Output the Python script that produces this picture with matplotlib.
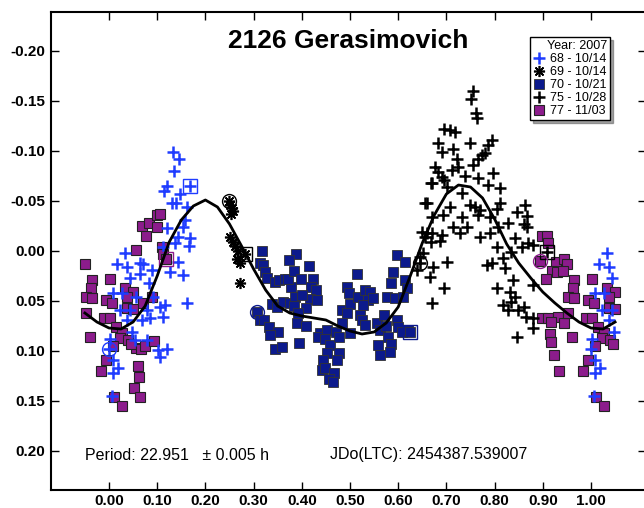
import numpy as np
import matplotlib.pyplot as plt
from matplotlib.lines import Line2D

plt.rcParams['font.family'] = ['Liberation Sans', 'DejaVu Sans']

# each night: first point is circled, last point is boxed
# session 68 - 10/14
ph68 = [0.000, 0.132, 0.146, 0.135, 0.121, 0.115, 0.147, 0.130, 0.140, 0.161, 0.158, 0.120, 0.154,
        0.144, 0.168, 0.167, 0.137, 0.113, 0.033, 0.016, 0.037, 0.064, 0.071, 0.089, 0.064,
        0.044, 0.127, 0.144, 0.153, 0.082, 0.009, 0.026, 0.057, 0.092, 0.106, 0.116, 0.023,
        0.044, 0.078, 0.068, 0.085, 0.113, 0.037, 0.161, 0.002, 0.047, 0.054, 0.078, 0.102,
        0.120, 0.106, 0.009, 0.019, 0.009, 0.006, 0.169]
mag68 = [0.098, -0.099, -0.092, -0.080, -0.065, -0.060, -0.057, -0.048, -0.048, -0.044, -0.031, -0.023, -0.024,
         -0.014, -0.013, -0.005, -0.008, -0.004, 0.002, 0.013, 0.016, 0.012, 0.013, 0.019, 0.023,
         0.027, 0.021, 0.011, 0.024, 0.032, 0.042, 0.042, 0.046, 0.046, 0.056, 0.054, 0.059,
         0.059, 0.059, 0.069, 0.067, 0.066, 0.069, 0.052, 0.088, 0.081, 0.089, 0.089, 0.099,
         0.098, 0.106, 0.109, 0.117, 0.122, 0.145, -0.065]

# session 69 - 10/14
ph69 = [0.248, 0.251, 0.255, 0.258, 0.254, 0.252, 0.258, 0.262, 0.268, 0.272, 0.266, 0.272, 0.282]
mag69 = [-0.050, -0.046, -0.043, -0.040, -0.037, -0.014, -0.009, -0.005, 0.000, 0.012, 0.008, 0.032, 0.003]

# session 70 - 10/21
ph70 = [0.308, 0.317, 0.313, 0.320, 0.324, 0.328, 0.344, 0.353, 0.365, 0.377, 0.372, 0.388, 0.374,
        0.384, 0.414, 0.398, 0.423, 0.420, 0.429, 0.418, 0.432, 0.338, 0.348, 0.362, 0.376, 0.386,
        0.384, 0.400, 0.409, 0.393, 0.313, 0.322, 0.331, 0.351, 0.334, 0.344, 0.358, 0.395, 0.391,
        0.409, 0.438, 0.434, 0.453, 0.448, 0.458, 0.453, 0.478, 0.474, 0.445, 0.441, 0.448, 0.467,
        0.457, 0.465, 0.471, 0.478, 0.483, 0.483, 0.493, 0.497, 0.500, 0.493, 0.514, 0.517, 0.531,
        0.542, 0.538, 0.548, 0.528, 0.521, 0.524, 0.531, 0.500, 0.555, 0.562, 0.576, 0.593, 0.597,
        0.614, 0.590, 0.586, 0.614, 0.618, 0.611, 0.571, 0.575, 0.579, 0.586, 0.583, 0.562, 0.559,
        0.597, 0.600, 0.607, 0.621, 0.624]
mag70 = [0.061, 0.000, 0.012, 0.014, 0.021, 0.027, 0.031, 0.029, 0.028, 0.036, 0.028, 0.003, 0.009,
         0.020, 0.015, 0.028, 0.028, 0.036, 0.039, 0.048, 0.049, 0.053, 0.056, 0.051, 0.052, 0.046,
         0.055, 0.044, 0.057, 0.062, 0.069, 0.069, 0.076, 0.081, 0.084, 0.098, 0.096, 0.092, 0.072,
         0.075, 0.082, 0.086, 0.079, 0.088, 0.094, 0.102, 0.102, 0.109, 0.109, 0.119, 0.117, 0.122,
         0.128, 0.131, 0.081, 0.086, 0.072, 0.059, 0.036, 0.042, 0.053, 0.062, 0.023, 0.046, 0.039,
         0.041, 0.049, 0.047, 0.054, 0.064, 0.069, 0.074, 0.082, 0.072, 0.079, 0.046, 0.047, 0.004,
         0.011, 0.021, 0.032, 0.029, 0.037, 0.046, 0.064, 0.075, 0.086, 0.093, 0.101, 0.104, 0.094,
         0.069, 0.076, 0.081, 0.079, 0.081]

# session 75 - 10/28
ph75 = [0.645, 0.645, 0.652, 0.638, 0.756, 0.752, 0.761, 0.763, 0.694, 0.707, 0.718, 0.683, 0.690,
        0.714, 0.749, 0.794, 0.787, 0.773, 0.780, 0.766, 0.756, 0.721, 0.725, 0.676, 0.683, 0.711,
        0.739, 0.690, 0.694, 0.766, 0.797, 0.787, 0.811, 0.670, 0.701, 0.732, 0.659, 0.707, 0.749,
        0.759, 0.770, 0.766, 0.790, 0.811, 0.804, 0.692, 0.670, 0.732, 0.714, 0.742, 0.649, 0.656,
        0.670, 0.690, 0.687, 0.728, 0.770, 0.790, 0.808, 0.828, 0.846, 0.863, 0.867, 0.860, 0.867,
        0.842, 0.856, 0.870, 0.880, 0.804, 0.835, 0.818, 0.822, 0.794, 0.784, 0.701, 0.673, 0.666,
        0.694, 0.670, 0.804, 0.832, 0.842, 0.835, 0.818, 0.828, 0.849, 0.860, 0.865, 0.880, 0.880,
        0.846, 0.880, 0.839, 0.656, 0.669, 0.659, 0.669, 0.908]
mag75 = [0.012, 0.006, 0.002, 0.019, -0.160, -0.152, -0.138, -0.133, -0.122, -0.121, -0.119, -0.108, -0.099,
         -0.102, -0.108, -0.111, -0.106, -0.096, -0.098, -0.092, -0.086, -0.092, -0.084, -0.084, -0.079, -0.081,
         -0.075, -0.074, -0.071, -0.073, -0.078, -0.066, -0.063, -0.068, -0.064, -0.058, -0.048, -0.044, -0.046,
         -0.044, -0.041, -0.036, -0.034, -0.048, -0.042, -0.036, -0.034, -0.034, -0.024, -0.024, -0.019, -0.014,
         -0.018, -0.016, -0.010, -0.018, -0.014, -0.018, -0.024, -0.028, -0.039, -0.046, -0.035, -0.027, -0.024,
         -0.013, -0.004, -0.008, -0.006, -0.004, 0.001, 0.007, 0.017, 0.012, 0.014, 0.011, 0.016, 0.026,
         0.037, 0.052, 0.037, 0.041, 0.046, 0.051, 0.054, 0.059, 0.059, 0.056, 0.066, 0.067, 0.077,
         0.086, 0.034, 0.029, -0.048, -0.068, -0.018, -0.009, 0.001]

# session 77 - 11/03
ph77 = [0.894, 0.898, 0.908, 0.910, 0.927, 0.945, 0.950, 0.920, 0.929, 0.941, 0.906, 0.965, 0.962,
        0.953, 0.965, 0.993, 0.898, 0.911, 0.931, 0.918, 0.943, 0.953, 0.990, 0.915, 0.917, 0.960,
        0.994, 0.924, 0.934, 0.984,
        0.003, 0.033, 0.049, 0.037, 0.089, 0.006, 0.071, 0.003, 0.037, 0.050, 0.015, 0.028, 0.023,
        0.040, 0.057, 0.045, 0.066, 0.075, 0.093, 0.009, 0.061, 0.063, 0.052, 0.064, 0.010, 0.026,
        0.057, 0.068, 0.083, 0.100, 0.077, 0.099, 0.106, 0.109, 0.113, 0.118]
mag77 = [0.010, -0.015, -0.015, -0.008, 0.011, 0.008, 0.013, 0.020, 0.021, 0.020, 0.028, 0.029, 0.037,
         0.046, 0.047, 0.049, 0.067, 0.067, 0.066, 0.071, 0.072, 0.062, 0.067, 0.083, 0.091, 0.086,
         0.109, 0.104, 0.120, 0.120,
         0.028, 0.037, 0.041, 0.046, 0.046, 0.052, 0.052, 0.067, 0.057, 0.058, 0.076, 0.082, 0.087,
         0.089, 0.097, 0.093, 0.098, 0.095, 0.090, 0.095, 0.115, 0.126, 0.137, 0.146, 0.146, 0.155,
         -0.001, -0.025, -0.028, -0.024, -0.015, -0.036, -0.037, -0.004, 0.003, 0.008]

# Fourier fit curve, one full cycle
fit_ph = [0.000, 0.025, 0.050, 0.075, 0.100, 0.125, 0.150, 0.175, 0.200, 0.225,
          0.250, 0.275, 0.300, 0.325, 0.350, 0.375, 0.400, 0.425, 0.450, 0.475,
          0.500, 0.525, 0.550, 0.575, 0.600, 0.625, 0.650, 0.675, 0.700, 0.725,
          0.750, 0.775, 0.800, 0.825, 0.850, 0.875, 0.900, 0.925, 0.950, 0.975]
fit_mag = [0.077, 0.078, 0.071, 0.055, 0.025, -0.009, -0.031, -0.045, -0.051, -0.044,
           -0.027, -0.005, 0.018, 0.039, 0.055, 0.062, 0.065, 0.067, 0.069, 0.075,
           0.080, 0.083, 0.081, 0.072, 0.056, 0.025, -0.008, -0.036, -0.057, -0.066,
           -0.064, -0.053, -0.032, -0.007, 0.012, 0.027, 0.041, 0.052, 0.062, 0.071]

xticks = [0.0, 0.1, 0.2, 0.3, 0.4, 0.5, 0.6, 0.7, 0.8, 0.9, 1.0]
yticks = [-0.20, -0.15, -0.10, -0.05, 0.00, 0.05, 0.10, 0.15, 0.20]


def wrap(ph, mag, w=0.05):
    # repeat points near the ends so the plot runs past 0 and 1
    ph, mag = np.asarray(ph), np.asarray(mag)
    lo = ph >= 1 - w - 1e-9
    hi = ph <= w + 1e-9
    return (np.concatenate([ph[lo] - 1, ph, ph[hi] + 1]),
            np.concatenate([mag[lo], mag, mag[hi]]))


blue = '#1f3cff'
navy = '#0c1a8c'
purple = '#8c1c8c'

fig = plt.figure(figsize=(6.44, 5.08), dpi=100)
ax = fig.add_axes([51 / 644, 18 / 508, 595 / 644, 478 / 508])

x, y = wrap(ph77, mag77)
ax.plot(x, y, 's', ms=7, mfc=purple, mec='#222222', mew=0.8, zorder=2)
ax.plot(ph70, mag70, 's', ms=6.5, mfc=navy, mec='#333333', mew=0.6, zorder=2)
ax.plot(ph69, mag69, ls='none', marker=(8, 2, 0), ms=8, mec='black', mew=1.2, zorder=3)
ax.plot(ph75, mag75, '+', ms=8, color='black', mew=1.8, zorder=3)
x, y = wrap(ph68, mag68)
ax.plot(x, y, '+', ms=8, color=blue, mew=1.8, zorder=3)

for ph, mag, c in [(ph68, mag68, blue), (ph69, mag69, 'black'), (ph70, mag70, navy),
                   (ph75, mag75, 'black'), (ph77, mag77, purple)]:
    ax.plot(ph[0], mag[0], 'o', ms=10, mfc='none', mec=c, mew=1.0, zorder=4)
    ax.plot(ph[-1], mag[-1], 's', ms=10, mfc='none', mec=c, mew=1.0, zorder=4)

x, y = wrap(fit_ph, fit_mag)
ax.plot(x, y, color='black', lw=2, zorder=5)

ax.set_xlim(-0.1203, 1.1141)
ax.set_ylim(0.239, -0.239)
ax.set_xticks(xticks)
ax.set_yticks(yticks)
ax.set_xticklabels(['%.2f' % v for v in xticks], fontweight='bold', fontsize=11)
ax.set_yticklabels(['%.2f' % v for v in yticks], fontweight='bold', fontsize=11)
ax.tick_params(direction='in', length=6, width=1, top=True, right=True)
ax.tick_params(axis='x', pad=3)
ax.tick_params(axis='y', pad=4)
for s in ax.spines.values():
    s.set_linewidth(1.5)

ax.text(0.5, -0.21, '2126 Gerasimovich', ha='center', va='center',
        fontsize=19, fontweight='bold', transform=ax.get_yaxis_transform())
ax.text(-0.050, 0.204, 'Period: 22.951   \u00b1 0.005 h', ha='left', va='center', fontsize=11.5)
ax.text(0.459, 0.204, 'JDo(LTC): 2454387.539007', ha='left', va='center', fontsize=11.5)

handles = [
    Line2D([], [], ls='none', marker='+', ms=8, color=blue, mew=1.8),
    Line2D([], [], ls='none', marker=(8, 2, 0), ms=8, mec='black', mew=1.2),
    Line2D([], [], ls='none', marker='s', ms=6.5, mfc=navy, mec='#333333', mew=0.6),
    Line2D([], [], ls='none', marker='+', ms=8, color='black', mew=1.8),
    Line2D([], [], ls='none', marker='s', ms=7, mfc=purple, mec='#222222', mew=0.8),
]
labels = ['68 - 10/14', '69 - 10/14', '70 - 10/21', '75 - 10/28', '77 - 11/03']
leg = ax.legend(handles, labels, title='Year: 2007', loc='upper right',
                bbox_to_anchor=(0.9395, 0.948), borderaxespad=0, fontsize=9,
                title_fontsize=9, fancybox=False, shadow=True, framealpha=1,
                edgecolor='black', handlelength=1.0, handletextpad=0.4,
                labelspacing=0.08, borderpad=0.25)
leg._legend_box.align = 'right'
leg._legend_box.sep = 1
leg.get_frame().set_linewidth(1)

fig.savefig('out.png', dpi=100)
